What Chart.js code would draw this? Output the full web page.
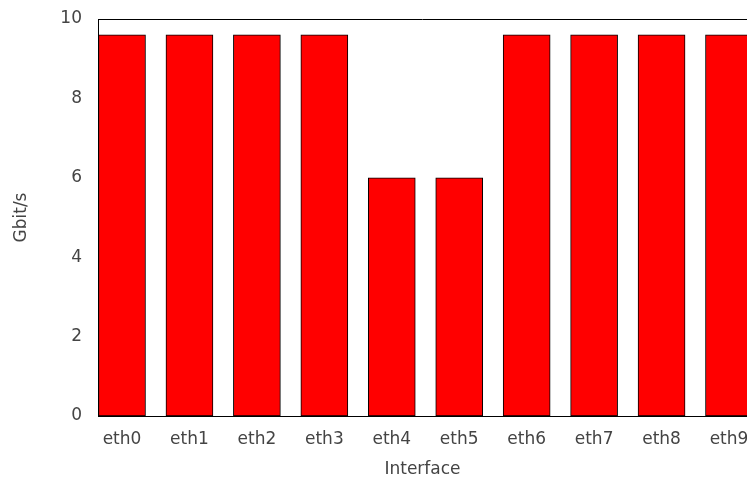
<!DOCTYPE html>
<html><head><meta charset="utf-8">
<script src="https://cdn.jsdelivr.net/npm/chart.js@4/dist/chart.umd.min.js"></script>
<style>html,body{margin:0;padding:0;background:#fff}#w{width:747px;height:478px}</style>
</head><body><div id="w"><canvas id="c"></canvas></div>
<script>
const categories = ["eth0","eth1","eth2","eth3","eth4","eth5","eth6","eth7","eth8","eth9"];
const throughput = [9.6,9.6,9.6,9.6,6,6,9.6,9.6,9.6,9.6];
const yTicks = [0,2,4,6,8,10];
const xTitle = "Interface";
const yTitle = "Gbit/s";

const font = {family: "DejaVu Sans", size: 17};
const txt = "#444";
const noPad = s => { s.paddingTop = 0; s.paddingBottom = 0; s.paddingLeft = 0; s.paddingRight = 0; };
const topFrame = {
  id: 'topFrame',
  afterDatasetsDraw(chart) {
    const a = chart.chartArea, ctx = chart.ctx;
    ctx.save();
    ctx.strokeStyle = '#000'; ctx.lineWidth = 1;
    ctx.beginPath();
    ctx.moveTo(a.left, a.top + 0.5); ctx.lineTo(a.right, a.top + 0.5);
    ctx.stroke();
    ctx.restore();
  }
};
new Chart(document.getElementById('c'), {
  type: 'bar',
  data: {
    datasets: [{
      data: categories.map((c, i) => ({x: i, y: throughput[i]})),
      backgroundColor: '#ff0000',
      borderColor: '#000',
      borderWidth: 1,
      borderSkipped: false,
      barThickness: 47
    }]
  },
  plugins: [topFrame],
  options: {
    responsive: true, maintainAspectRatio: false, animation: false,
    layout: {padding: {top: 19, right: 0, bottom: 0, left: 0}},
    plugins: {legend: {display: false}, tooltip: {enabled: false}},
    scales: {
      x: {
        type: 'linear', min: -0.356, max: 9.267, offset: false,
        grid: {display: false, drawTicks: false},
        border: {display: true, color: '#000', width: 1},
        ticks: {stepSize: 1, includeBounds: false, autoSkip: false, maxRotation: 0, font, color: txt, padding: 13,
          callback: v => Number.isInteger(v) ? (categories[v] ?? '') : ''},
        title: {display: true, text: xTitle, font, color: txt, padding: {top: 0, bottom: -2}},
        afterFit: s => { s.height = 62; noPad(s); }
      },
      y: {
        min: 0, max: 10,
        afterBuildTicks: s => { s.ticks = yTicks.map(v => ({value: v})); },
        grid: {display: false, drawTicks: false},
        border: {display: true, color: '#000', width: 1},
        ticks: {font, color: txt, padding: 16},
        title: {display: true, text: yTitle, font, color: txt, padding: {top: 11, bottom: 0}},
        afterFit: s => { s.width = 98; noPad(s); }
      }
    }
  }
});
</script></body></html>
